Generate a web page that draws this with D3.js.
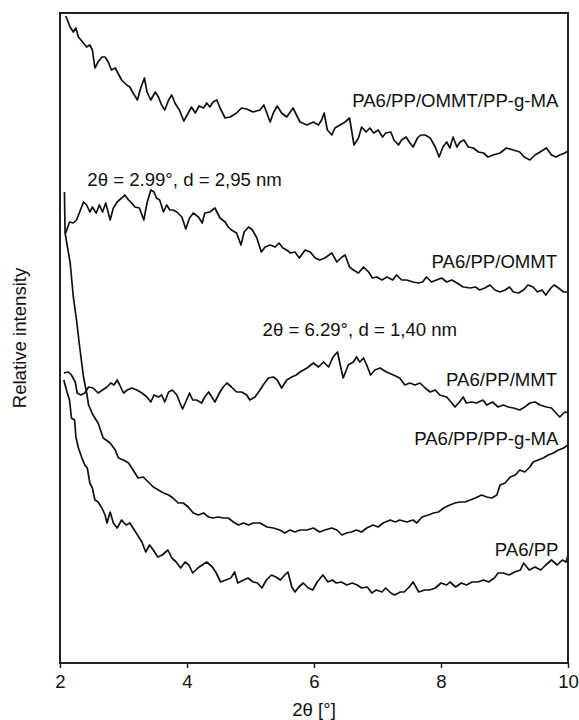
<!DOCTYPE html>
<html>
<head>
<meta charset="utf-8">
<script src="https://cdn.jsdelivr.net/npm/d3@7"></script>
<style>
  body { margin: 0; background: #fff; }
  text { font-family: "Liberation Sans", Arial, sans-serif; fill: #111; }
</style>
</head>
<body>
<div id="chart"></div>
<script>
// 2theta [deg] / relative intensity [a.u.]
const ommtMa = [[2.09,647],[2.16,636],[2.21,631],[2.25,635],[2.29,626],[2.37,620],[2.42,616],[2.47,618],[2.51,613],[2.55,595],[2.60,601],[2.66,606],[2.71,606],[2.76,601],[2.81,593],[2.87,595],[2.92,589],[2.97,583],[3.05,578],[3.10,576],[3.15,570],[3.22,563],[3.27,575],[3.33,585],[3.37,571],[3.43,563],[3.50,571],[3.55,566],[3.60,558],[3.65,553],[3.71,563],[3.76,568],[3.81,560],[3.88,553],[3.95,542],[4.02,550],[4.07,556],[4.13,550],[4.19,557],[4.26,555],[4.31,560],[4.36,556],[4.41,561],[4.47,563],[4.52,555],[4.60,545],[4.68,546],[4.78,550],[4.86,555],[4.94,554],[5.04,551],[5.15,553],[5.21,558],[5.31,541],[5.36,550],[5.42,557],[5.49,550],[5.57,546],[5.67,555],[5.74,546],[5.78,541],[5.89,538],[5.99,541],[6.07,538],[6.12,543],[6.16,550],[6.21,533],[6.28,528],[6.33,535],[6.41,538],[6.49,541],[6.56,545],[6.63,518],[6.70,525],[6.75,536],[6.82,531],[6.88,535],[6.94,530],[7.01,533],[7.08,526],[7.13,530],[7.21,531],[7.26,523],[7.33,518],[7.38,523],[7.45,526],[7.50,521],[7.56,516],[7.63,525],[7.68,528],[7.75,528],[7.83,525],[7.91,516],[7.97,506],[8.03,516],[8.09,521],[8.14,515],[8.19,526],[8.25,516],[8.30,521],[8.36,523],[8.43,516],[8.51,515],[8.59,511],[8.67,510],[8.74,506],[8.82,508],[8.93,510],[9.03,515],[9.14,513],[9.24,511],[9.31,506],[9.40,503],[9.48,508],[9.56,511],[9.66,515],[9.74,508],[9.81,506],[9.87,508],[9.95,510],[10.0,512]];

const ommt = [[2.09,430],[2.15,441],[2.21,440],[2.26,443],[2.31,451],[2.37,461],[2.42,458],[2.47,451],[2.51,456],[2.57,450],[2.62,458],[2.67,451],[2.72,460],[2.79,443],[2.84,455],[2.90,461],[2.97,465],[3.02,468],[3.08,463],[3.13,460],[3.18,456],[3.25,455],[3.32,443],[3.37,460],[3.43,473],[3.48,471],[3.52,465],[3.57,463],[3.63,451],[3.68,458],[3.73,453],[3.78,453],[3.84,451],[3.92,446],[3.98,434],[4.04,445],[4.10,450],[4.18,446],[4.24,440],[4.28,450],[4.36,451],[4.44,455],[4.52,445],[4.60,441],[4.65,436],[4.70,433],[4.78,430],[4.85,418],[4.90,431],[4.97,436],[5.03,433],[5.10,425],[5.17,411],[5.23,416],[5.31,418],[5.39,416],[5.45,420],[5.51,415],[5.57,413],[5.63,410],[5.70,411],[5.77,405],[5.86,413],[5.94,411],[6.02,405],[6.09,403],[6.17,405],[6.28,410],[6.36,401],[6.44,406],[6.49,408],[6.56,396],[6.62,393],[6.70,390],[6.78,396],[6.86,391],[6.92,385],[6.99,386],[7.07,383],[7.15,386],[7.24,383],[7.30,388],[7.38,383],[7.46,383],[7.56,381],[7.64,380],[7.71,381],[7.77,386],[7.85,381],[7.93,383],[8.01,385],[8.09,381],[8.17,383],[8.25,380],[8.35,376],[8.46,375],[8.54,376],[8.61,373],[8.69,375],[8.77,378],[8.85,373],[8.93,371],[9.01,373],[9.08,376],[9.14,371],[9.22,370],[9.30,373],[9.37,378],[9.45,376],[9.52,371],[9.59,373],[9.65,368],[9.73,375],[9.78,378],[9.85,375],[9.93,371],[10.0,371]];

const mmt = [[2.06,290],[2.13,291],[2.18,288],[2.24,281],[2.27,270],[2.33,268],[2.39,270],[2.45,276],[2.52,275],[2.60,270],[2.67,273],[2.74,276],[2.80,280],[2.85,278],[2.90,283],[2.94,278],[3.00,270],[3.06,273],[3.13,275],[3.21,273],[3.29,270],[3.37,266],[3.43,261],[3.48,268],[3.55,266],[3.60,268],[3.65,261],[3.71,271],[3.77,273],[3.84,268],[3.89,260],[3.93,254],[3.98,261],[4.04,270],[4.09,263],[4.15,263],[4.23,260],[4.28,266],[4.34,271],[4.39,266],[4.44,261],[4.51,270],[4.57,276],[4.63,280],[4.70,276],[4.78,271],[4.86,271],[4.94,268],[4.99,263],[5.07,266],[5.15,273],[5.20,278],[5.28,285],[5.36,286],[5.42,283],[5.49,275],[5.57,283],[5.65,286],[5.72,288],[5.78,291],[5.89,295],[5.99,300],[6.07,296],[6.15,301],[6.23,296],[6.30,306],[6.37,311],[6.42,296],[6.46,285],[6.54,298],[6.62,301],[6.67,306],[6.72,301],[6.78,305],[6.83,298],[6.89,288],[6.96,293],[7.04,295],[7.14,291],[7.25,288],[7.35,285],[7.43,278],[7.51,280],[7.59,278],[7.67,280],[7.75,275],[7.83,271],[7.91,273],[7.98,268],[8.09,266],[8.17,260],[8.22,256],[8.29,261],[8.35,266],[8.40,260],[8.48,261],[8.56,260],[8.66,263],[8.72,258],[8.81,261],[8.90,256],[8.98,258],[9.06,256],[9.14,255],[9.24,253],[9.32,256],[9.40,260],[9.48,261],[9.56,258],[9.66,256],[9.74,255],[9.81,250],[9.87,246],[9.95,251],[10.0,250]];

const ppgma = [[2.07,471],[2.08,430],[2.16,400],[2.21,366],[2.26,343],[2.31,316],[2.37,286],[2.42,270],[2.45,258],[2.52,248],[2.60,240],[2.68,225],[2.79,220],[2.87,213],[2.92,205],[3.00,203],[3.08,200],[3.15,193],[3.23,185],[3.31,186],[3.39,181],[3.47,176],[3.55,173],[3.63,170],[3.71,168],[3.78,165],[3.86,160],[3.94,160],[4.02,156],[4.10,150],[4.18,148],[4.26,150],[4.34,146],[4.41,145],[4.49,146],[4.57,145],[4.65,145],[4.73,141],[4.81,138],[4.89,140],[4.97,138],[5.04,140],[5.15,140],[5.26,136],[5.36,135],[5.46,133],[5.54,130],[5.62,133],[5.70,131],[5.78,133],[5.89,133],[5.99,135],[6.09,131],[6.17,133],[6.28,135],[6.36,133],[6.44,128],[6.51,130],[6.59,131],[6.67,133],[6.75,131],[6.83,135],[6.93,138],[7.01,136],[7.09,140],[7.20,143],[7.28,141],[7.35,143],[7.46,141],[7.56,143],[7.62,140],[7.70,146],[7.80,148],[7.88,150],[7.96,151],[8.04,155],[8.14,158],[8.22,160],[8.30,161],[8.38,161],[8.46,163],[8.54,165],[8.64,168],[8.72,166],[8.80,165],[8.88,168],[8.93,178],[9.01,180],[9.09,186],[9.17,188],[9.24,193],[9.32,191],[9.40,196],[9.45,201],[9.53,203],[9.61,205],[9.69,208],[9.77,210],[9.85,213],[9.93,215],[10.0,218]];

const pp = [[2.06,283],[2.11,271],[2.15,263],[2.18,245],[2.23,243],[2.25,226],[2.29,215],[2.34,206],[2.39,198],[2.43,195],[2.47,180],[2.51,175],[2.55,163],[2.60,161],[2.66,155],[2.71,148],[2.74,140],[2.79,151],[2.84,140],[2.90,135],[2.97,143],[3.04,138],[3.10,140],[3.17,133],[3.22,128],[3.29,121],[3.35,111],[3.41,118],[3.47,113],[3.54,106],[3.61,108],[3.70,113],[3.76,105],[3.83,101],[3.90,95],[3.97,101],[4.03,98],[4.09,90],[4.17,95],[4.24,98],[4.31,101],[4.40,96],[4.46,90],[4.53,81],[4.61,83],[4.69,85],[4.75,91],[4.80,80],[4.89,83],[4.96,85],[5.04,81],[5.11,80],[5.18,75],[5.25,83],[5.33,88],[5.40,86],[5.47,83],[5.54,88],[5.59,91],[5.65,76],[5.70,71],[5.76,76],[5.83,80],[5.91,75],[5.98,73],[6.05,81],[6.14,88],[6.22,81],[6.29,83],[6.35,80],[6.43,81],[6.52,78],[6.60,80],[6.68,78],[6.75,75],[6.84,76],[6.91,70],[6.98,73],[7.07,71],[7.13,75],[7.21,70],[7.27,68],[7.36,71],[7.42,71],[7.50,76],[7.56,81],[7.65,71],[7.74,73],[7.82,73],[7.91,75],[8.00,80],[8.09,78],[8.14,81],[8.23,76],[8.32,80],[8.40,78],[8.49,81],[8.58,81],[8.67,83],[8.75,81],[8.84,85],[8.90,90],[8.98,90],[9.07,88],[9.16,91],[9.25,93],[9.30,100],[9.39,93],[9.48,96],[9.57,93],[9.65,98],[9.74,103],[9.83,98],[9.91,103],[9.97,101],[10.0,108]];

const series = [ommtMa, ommt, mmt, ppgma, pp];

// sample names, placed by [2theta end, intensity baseline]
const sampleLabels = [
  {text: "PA6/PP/OMMT/PP-g-MA", x: 9.85, y: 556},
  {text: "PA6/PP/OMMT", x: 9.83, y: 395},
  {text: "PA6/PP/MMT", x: 9.83, y: 277},
  {text: "PA6/PP/PP-g-MA", x: 9.85, y: 218},
  {text: "PA6/PP", x: 9.85, y: 107}
];
const peakNotes = [
  {text: "2\u03b8 = 2.99\u00b0, d = 2,95 nm", x: 2.43, y: 477},
  {text: "2\u03b8 = 6.29\u00b0, d = 1,40 nm", x: 5.19, y: 327}
];
const xTicks = [2, 4, 6, 8, 10];

const W = 579, H = 720;
const margin = {top: 13, right: 11, bottom: 57, left: 60};
const x0 = margin.left, x1 = W - margin.right;
const y0 = H - margin.bottom, y1 = margin.top;
const fs = 18.6;

const svg = d3.select("#chart").append("svg")
    .attr("width", W)
    .attr("height", H);

const x = d3.scaleLinear().domain([2, 10]).range([x0, x1]);
const y = d3.scaleLinear().domain([0, 650]).range([y0, y1]);

// curves
const line = d3.line().x(d => x(d[0])).y(d => y(d[1]));
svg.selectAll(".curve")
    .data(series)
    .enter()
    .append("path")
    .attr("class", "curve")
    .attr("d", line)
    .attr("fill", "none")
    .attr("stroke", "#111")
    .attr("stroke-width", 1.7)
    .attr("stroke-linejoin", "round");

// frame
svg.append("rect")
    .attr("x", x0).attr("y", y1)
    .attr("width", x1 - x0).attr("height", y0 - y1)
    .attr("fill", "none")
    .attr("stroke", "#222")
    .attr("stroke-width", 2);

// x axis
const xAxis = svg.append("g")
    .attr("transform", "translate(0," + y0 + ")")
    .call(d3.axisBottom(x).tickValues(xTicks).tickFormat(d3.format("d")).tickSize(5).tickPadding(7));
xAxis.select(".domain").remove();
xAxis.selectAll(".tick line").attr("stroke", "#222").attr("stroke-width", 1.5);
xAxis.selectAll(".tick text")
    .attr("font-size", fs)
    .attr("font-family", "Liberation Sans, Arial, sans-serif")
    .attr("fill", "#111");

svg.append("text")
    .attr("x", (x0 + x1) / 2)
    .attr("y", 716)
    .attr("text-anchor", "middle")
    .attr("font-size", fs)
    .text("2\u03b8 [\u00b0]");

svg.append("text")
    .attr("transform", "translate(26," + (y0 + y1) / 2 + ") rotate(-90)")
    .attr("text-anchor", "middle")
    .attr("font-size", fs)
    .text("Relative intensity");

// labels
svg.selectAll(".sample")
    .data(sampleLabels)
    .enter()
    .append("text")
    .attr("class", "sample")
    .attr("x", d => x(d.x))
    .attr("y", d => y(d.y))
    .attr("text-anchor", "end")
    .attr("font-size", fs)
    .text(d => d.text);

svg.selectAll(".note")
    .data(peakNotes)
    .enter()
    .append("text")
    .attr("class", "note")
    .attr("x", d => x(d.x))
    .attr("y", d => y(d.y))
    .attr("font-size", fs)
    .text(d => d.text);
</script>
</body>
</html>
